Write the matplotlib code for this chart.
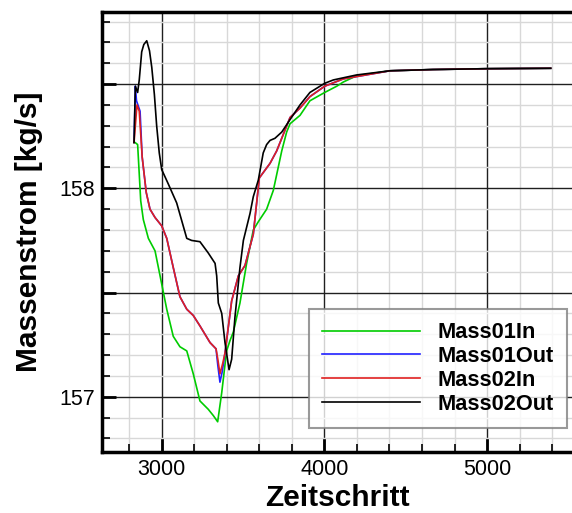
import matplotlib
matplotlib.use('Agg')
import matplotlib.pyplot as plt
from matplotlib.ticker import MultipleLocator, FuncFormatter

plt.rcParams['font.family'] = ['Liberation Sans', 'DejaVu Sans']

# ---- Daten ----
x_m01in = [2830, 2836, 2852, 2871, 2887, 2918, 2959, 2990, 3031, 3071, 3112, 3154,
           3194, 3235, 3286, 3317, 3344, 3369, 3399, 3420, 3440, 3481, 3522, 3563,
           3594, 3645, 3686, 3738, 3768, 3789, 3850, 3911, 4002, 4076, 4116, 4198,
           4403, 4667, 4997, 5391]
y_m01in = [158.22, 158.22, 158.21, 157.94, 157.85, 157.76, 157.70, 157.58, 157.42, 157.29,
           157.24, 157.22, 157.11, 156.98, 156.94, 156.91, 156.88, 157.02, 157.22, 157.27,
           157.31, 157.45, 157.64, 157.80, 157.84, 157.90, 157.99, 158.18, 158.27, 158.31,
           158.35, 158.42, 158.46, 158.49, 158.51, 158.54, 158.564, 158.57, 158.574, 158.576]

x_m01out = [2830, 2838, 2845, 2867, 2880, 2905, 2928, 2959, 3000, 3031, 3071, 3112,
            3154, 3194, 3235, 3297, 3334, 3345, 3358, 3372, 3389, 3430, 3471, 3512,
            3563, 3600, 3666, 3707, 3789, 3850, 3911, 4002, 4116, 4403, 4667, 4997, 5391]
y_m01out = [158.22, 158.49, 158.42, 158.37, 158.15, 157.98, 157.90, 157.86, 157.82, 157.76,
            157.62, 157.48, 157.42, 157.39, 157.34, 157.26, 157.23, 157.15, 157.07, 157.12,
            157.21, 157.46, 157.58, 157.63, 157.78, 158.05, 158.12, 158.18, 158.34, 158.385,
            158.44, 158.49, 158.525, 158.564, 158.57, 158.574, 158.576]

x_m02in = [2830, 2848, 2862, 2880, 2905, 2928, 2959, 3000, 3031, 3071, 3112, 3154,
           3194, 3235, 3297, 3334, 3345, 3358, 3375, 3389, 3430, 3471, 3512, 3563,
           3600, 3666, 3707, 3789, 3850, 3911, 4002, 4116, 4403, 4667, 4997, 5391]
y_m02in = [158.22, 158.40, 158.37, 158.15, 157.98, 157.90, 157.86, 157.82, 157.76, 157.62,
           157.48, 157.42, 157.39, 157.34, 157.26, 157.23, 157.18, 157.11, 157.16, 157.21,
           157.46, 157.58, 157.63, 157.78, 158.05, 158.12, 158.18, 158.34, 158.385, 158.44,
           158.49, 158.525, 158.564, 158.57, 158.574, 158.576]

x_m02out = [2830, 2838, 2852, 2862, 2877, 2890, 2908, 2925, 2939, 2955, 2969, 2985,
            3000, 3041, 3092, 3154, 3184, 3235, 3286, 3328, 3338, 3348, 3369, 3389,
            3414, 3430, 3450, 3481, 3502, 3543, 3563, 3594, 3624, 3645, 3666, 3696,
            3738, 3789, 3850, 3911, 4002, 4055, 4198, 4403, 4667, 4997, 5391]
y_m02out = [158.22, 158.49, 158.46, 158.52, 158.655, 158.69, 158.708, 158.66, 158.58, 158.45,
            158.30, 158.17, 158.09, 158.02, 157.93, 157.76, 157.75, 157.744, 157.69, 157.64,
            157.58, 157.45, 157.40, 157.26, 157.13, 157.18, 157.38, 157.62, 157.75, 157.88,
            157.96, 158.04, 158.17, 158.21, 158.23, 158.24, 158.27, 158.33, 158.40, 158.46,
            158.504, 158.52, 158.544, 158.564, 158.57, 158.574, 158.576]

fig = plt.figure(figsize=(5.72, 5.13), dpi=100)
ax = fig.add_axes([102 / 572, 61 / 513, 470 / 572, 440 / 513])

ax.plot(x_m01in, y_m01in, color='#00cc00', lw=1.2, label='Mass01In')
ax.plot(x_m01out, y_m01out, color='#2020ff', lw=1.2, label='Mass01Out')
ax.plot(x_m02in, y_m02in, color='#e02020', lw=1.2, label='Mass02In')
ax.plot(x_m02out, y_m02out, color='black', lw=1.2, label='Mass02Out')

ax.set_xlim(2633, 5522)
ax.set_ylim(156.735, 158.846)

ax.xaxis.set_major_locator(MultipleLocator(1000))
ax.xaxis.set_minor_locator(MultipleLocator(200))
ax.yaxis.set_major_locator(MultipleLocator(0.5))
ax.yaxis.set_minor_locator(MultipleLocator(0.1))
ax.yaxis.set_major_formatter(FuncFormatter(lambda v, p: f'{v:.0f}' if abs(v - round(v)) < 1e-6 else ''))

ax.grid(which='minor', color='#d8d8d8', lw=1.0, zorder=0)
ax.grid(which='major', color='#202020', lw=1.0, zorder=0)
ax.set_axisbelow(True)

ax.tick_params(which='major', direction='in', length=10, width=2, labelsize=15.5, pad=5)
ax.tick_params(which='minor', direction='in', length=6, width=1.2)
for s in ['left', 'bottom', 'top']:
    ax.spines[s].set_linewidth(2.5)
ax.spines['right'].set_visible(False)

ax.set_xlabel('Zeitschritt', fontsize=21.5, fontweight='bold', labelpad=3)
ax.set_ylabel('Massenstrom [kg/s]', fontsize=21.5, fontweight='bold', labelpad=12)

leg = ax.legend(loc='lower right', bbox_to_anchor=(0.989, 0.055),
                prop={'weight': 'bold', 'size': 15.7}, frameon=True, fancybox=False,
                handlelength=4.5, handletextpad=0.8, labelspacing=0.13,
                borderpad=0.6, borderaxespad=0)
leg.get_frame().set_edgecolor('#808080')
leg.get_frame().set_linewidth(1.5)

fig.savefig('out.png', dpi=100)
